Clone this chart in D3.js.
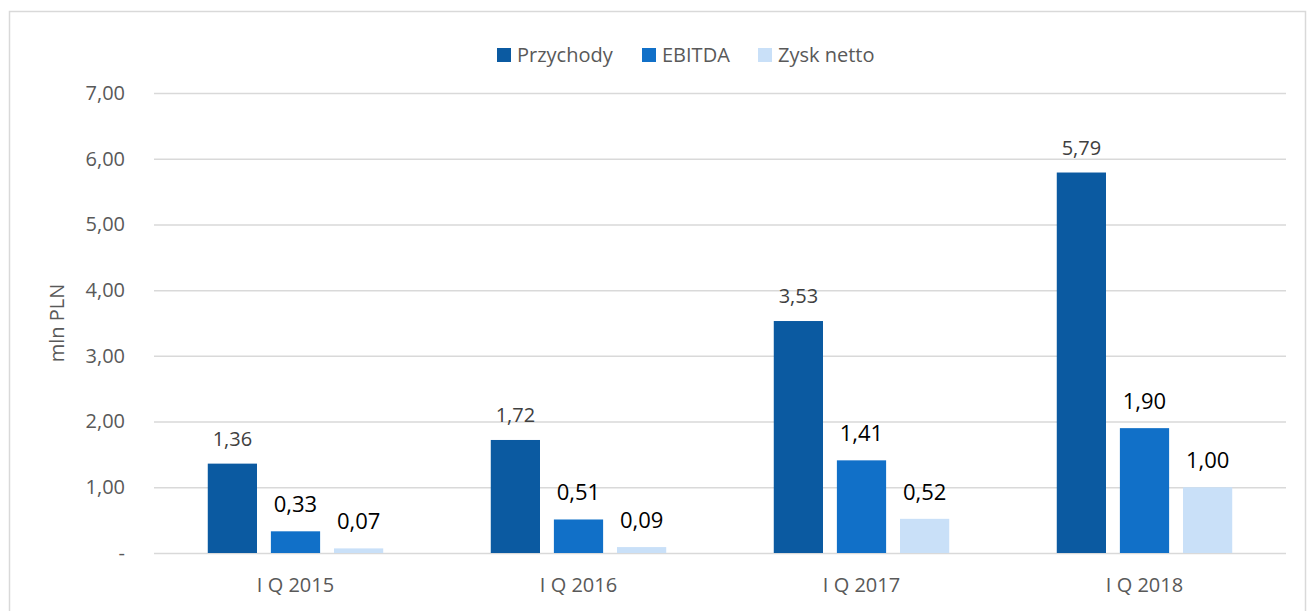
<!DOCTYPE html>
<html>
<head>
<meta charset="utf-8">
<script src="https://cdn.jsdelivr.net/npm/d3@7"></script>
<style>
  body { margin: 0; background: #fff; }
  text { font-family: "Open Sans", sans-serif; }
</style>
</head>
<body>
<script>
const categories = ['I Q 2015', 'I Q 2016', 'I Q 2017', 'I Q 2018']
const seriesNames = ['Przychody', 'EBITDA', 'Zysk netto']
const przychody = [1.36, 1.72, 3.53, 5.79]
const ebitda = [0.33, 0.51, 1.41, 1.90]
const zyskNetto = [0.07, 0.09, 0.52, 1.00]
const yTicks = [0, 1, 2, 3, 4, 5, 6, 7]

const seriesValues = [przychody, ebitda, zyskNetto]
const colors = ['#0b5aa1', '#1170c8', '#c9e0f8']

const W = 1308, H = 611
const margin = {top: 93, left: 154, right: 22, bottom: 58}
const width = W - margin.left - margin.right
const height = H - margin.top - margin.bottom

const svg = d3.select('body').append('svg')
  .attr('width', W)
  .attr('height', H)

// chart border
svg.append('rect')
  .attr('x', 9.5).attr('y', 11.5)
  .attr('width', W - 12).attr('height', H)
  .attr('fill', 'none')
  .attr('stroke', '#d9d9d9')
  .attr('stroke-width', 1.5)

const g = svg.append('g')
  .attr('transform', `translate(${margin.left},${margin.top})`)

const x0 = d3.scaleBand().domain(categories).range([0, width]).paddingInner(0.38).paddingOuter(0.19)
const x1 = d3.scaleBand().domain(seriesNames).range([0, x0.bandwidth()]).paddingInner(0.22)
const y = d3.scaleLinear().domain([0, 7]).range([height, 0])

const fmt = (v) => d3.format('.2f')(v).replace('.', ',')

// gridlines + y labels
const yAxis = d3.axisLeft(y).tickValues(yTicks).tickSize(-width)
  .tickFormat((d) => d === 0 ? '-' : fmt(d))
const gy = g.append('g').call(yAxis)
gy.select('.domain').remove()
gy.selectAll('.tick line').attr('stroke', '#d9d9d9').attr('stroke-width', 1.5)
gy.selectAll('.tick text')
  .attr('x', -29)
  .attr('fill', '#595959')
  .style('font-size', '20px')
  .style('font-family', '"Open Sans", sans-serif')

// x labels
const xAxis = d3.axisBottom(x0).tickSize(0)
const gx = g.append('g').attr('transform', `translate(0,${height})`).call(xAxis)
gx.select('.domain').remove()
gx.selectAll('.tick text')
  .attr('dy', 0).attr('y', 39)
  .attr('fill', '#595959')
  .style('font-size', '20px')
  .style('font-family', '"Open Sans", sans-serif')

// y title
svg.append('text')
  .attr('transform', `translate(64,${margin.top + y(3.5)}) rotate(-90)`)
  .attr('text-anchor', 'middle')
  .attr('fill', '#595959')
  .style('font-size', '20px')
  .text('mln PLN')

const rows = categories.map((c, i) => ({cat: c, vals: seriesNames.map((s, j) => ({s, j, v: seriesValues[j][i]}))}))

const groups = g.selectAll('g.grp').data(rows).join('g')
  .attr('class', 'grp')
  .attr('transform', (d) => `translate(${x0(d.cat)},0)`)

groups.selectAll('rect').data((d) => d.vals).join('rect')
  .attr('x', (d) => x1(d.s))
  .attr('width', x1.bandwidth())
  .attr('y', (d) => y(d.v))
  .attr('height', (d) => height - y(d.v))
  .attr('fill', (d) => colors[d.j])

groups.selectAll('text.lbl').data((d) => d.vals).join('text')
  .attr('class', 'lbl')
  .attr('x', (d) => x1(d.s) + x1.bandwidth() / 2)
  .attr('y', (d) => y(d.v) - (d.j === 0 ? 18 : 19))
  .attr('text-anchor', 'middle')
  .attr('fill', (d) => d.j === 0 ? '#404040' : '#000')
  .style('font-size', (d) => d.j === 0 ? '20px' : '22px')
  .text((d) => fmt(d.v))

// legend
const legendX = [497, 642, 758]
const legend = svg.append('g')
legend.selectAll('rect').data(seriesNames).join('rect')
  .attr('x', (d, i) => legendX[i]).attr('y', 48)
  .attr('width', 14).attr('height', 14)
  .attr('fill', (d, i) => colors[i])
legend.selectAll('text').data(seriesNames).join('text')
  .attr('x', (d, i) => legendX[i] + 20).attr('y', 62)
  .attr('fill', '#595959')
  .style('font-size', '20px')
  .text((d) => d)
</script>
</body>
</html>
